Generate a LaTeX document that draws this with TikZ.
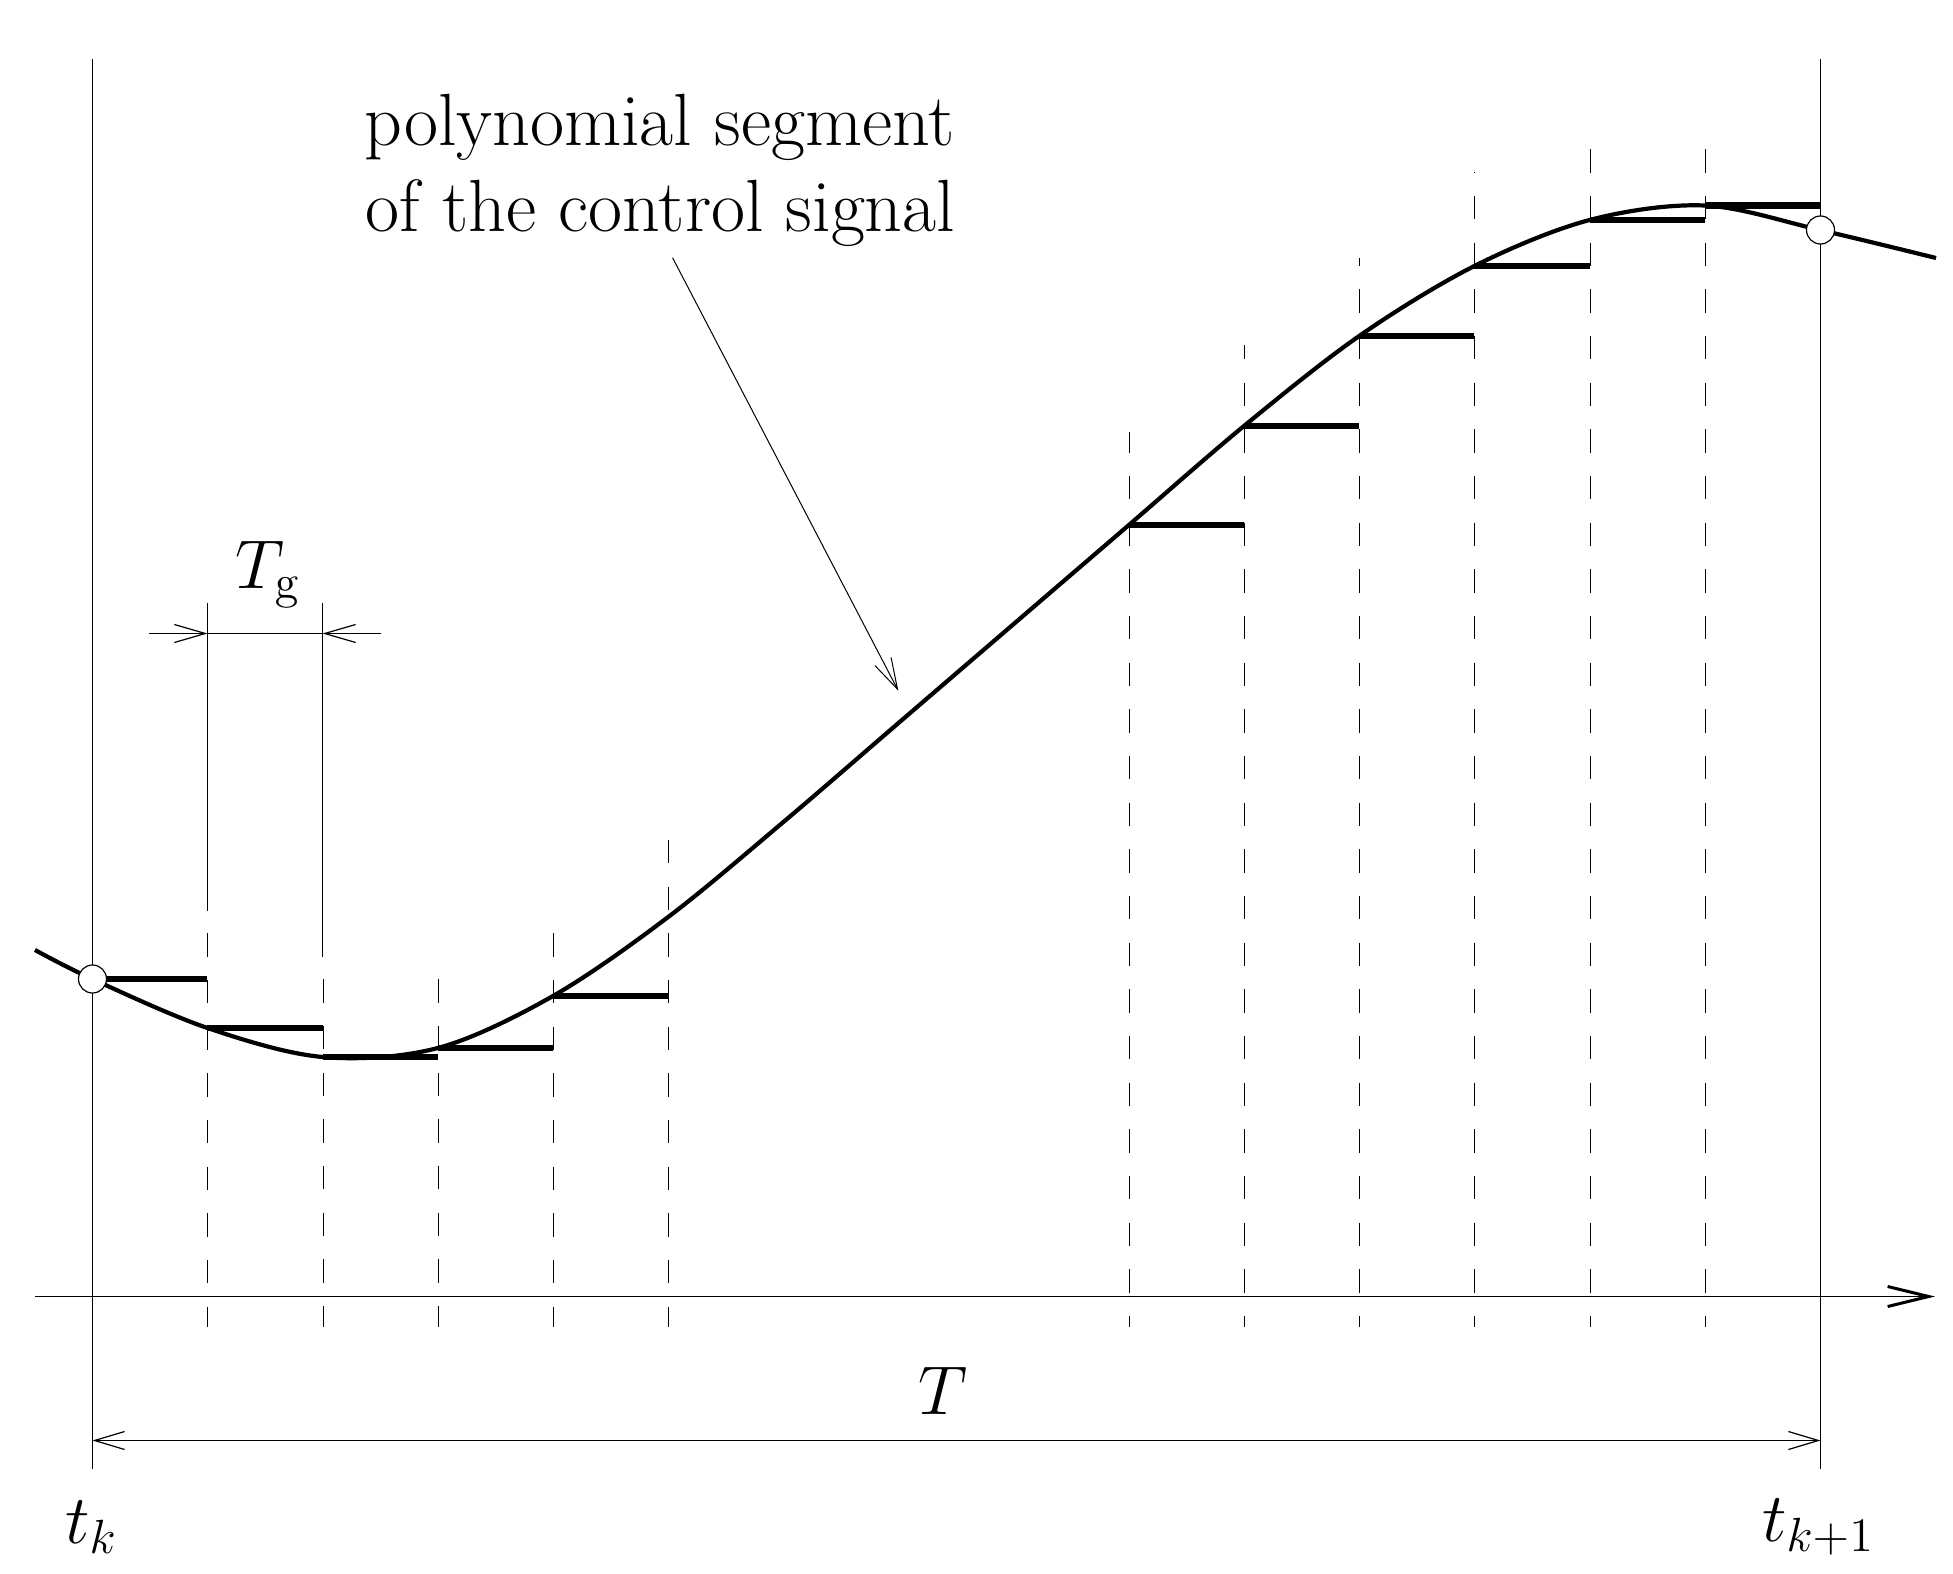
\documentclass[tikz,border=0pt]{standalone}
\usetikzlibrary{arrows.meta}
\begin{document}
\begin{tikzpicture}[x=0.25pt,y=-0.25pt,
  thinline/.style={line width=0.3pt},
  gridline/.style={line width=0.28pt, dash pattern=on 5.833pt off 5.833pt},
  curveline/.style={line width=1.05pt, line join=round},
  stepline/.style={line width=1.65pt},
  knot/.style={circle, draw, fill=white, line width=0.3pt, minimum size=7pt, inner sep=0pt},
  barb/.style={-{Straight Barb[length=7.75pt,width=4.5pt]}},
  dimarrow/.style={{Straight Barb[length=7.5pt,width=4.5pt]}-{Straight Barb[length=7.5pt,width=4.5pt]}},
  axisarrow/.style={-{Straight Barb[length=10.25pt,width=5pt,line width=0.75pt]}},
  lbl/.style={font=\fontsize{17.28}{21.5}\selectfont, inner sep=0pt},
  txt/.style={font=\fontsize{18.5}{23}\selectfont, inner sep=0pt},
]
\path[use as bounding box] (0,0) rectangle (1953,1574);

% dashed sampling lines
\foreach \k/\top/\ph in {1/933.33/0, 2/979.33/0, 3/979.33/0, 4/933.33/0, 5/840/0,
  9/431.7/0.59, 10/345/2.25, 11/258/3.83, 12/171.7/5.59, 13/149.33/0, 14/149.33/0}{
  \draw[gridline, dash phase=\ph pt] ({round(92.3+115.18*\k)+0.5},\top) -- ({round(92.3+115.18*\k)+0.5},1327);
}

% solid extension lines of T_g
\coordinate (g1top) at (207.5,603);
\coordinate (g1bot) at (207.5,910.7);
\coordinate (g2top) at (322.5,603);
\coordinate (g2bot) at (322.5,956.7);
\draw[thinline] (g1top) -- (g1bot);
\draw[thinline] (g2top) -- (g2bot);

% T_g dimension
\coordinate (gL) at (149,633.5);
\coordinate (gA) at (207.5,633.5);
\coordinate (gB) at (322.5,633.5);
\coordinate (gR) at (381,633.5);
\draw[thinline] (gA) -- (gB);
\draw[thinline, barb] (gL) -- (gA);
\draw[thinline, barb] (gR) -- (gB);

% t_k and t_{k+1} verticals
\coordinate (k0top) at (92.5,58.5);
\coordinate (k0bot) at (92.5,1469);
\coordinate (k1top) at (1820.5,58.5);
\coordinate (k1bot) at (1820.5,1469);
\draw[thinline] (k0top) -- (k0bot);
\draw[thinline] (k1top) -- (k1bot);

% time axis
\coordinate (ax0) at (35,1296.5);
\coordinate (ax1) at (1935,1296.5);
\draw[thinline, axisarrow] (ax0) -- (ax1);

% T dimension
\coordinate (TA) at (92.5,1440.5);
\coordinate (TB) at (1820.5,1440.5);
\draw[thinline, dimarrow] (TA) -- (TB);

% polynomial curve
\draw[curveline] plot[smooth, tension=0.55] coordinates {
  (35,950) (92.3,979) (207.5,1028) (322.7,1057) (437.8,1048) (553,996)
  (668.2,917) (783.4,822) (898.5,723) (1013.7,624) (1128.9,525) (1244,426)
  (1359.2,336) (1474.4,266) (1589.6,220) (1704.8,205.5) (1820,230) (1936,258)};

% zero-order hold steps
\foreach \k/\y in {0/979, 1/1028, 2/1057, 3/1048, 4/996,
  9/525, 10/426, 11/336, 12/266, 13/220, 14/205.5}{
  \draw[stepline] ({92.3+115.18*\k},\y) -- ({92.3+115.18*(\k+1)},\y);
}

% knots
\node[knot] (P0) at (92.5,979) {};
\node[knot] (P1) at (1820.5,230) {};

% labels
\node[txt, anchor=base] (lab1) at (659.5,145) {polynomial segment};
\node[txt, anchor=base] (lab2) at (660.5,231) {of the control signal};
\node[lbl, anchor=base] (Tg) at (268,588) {$T_{\mathrm{g}}$};
\node[lbl, anchor=base] (Tlab) at (943.5,1414) {$T$};
\node[lbl, anchor=base] (tk) at (91.5,1543) {$t_k$};
\node[lbl, anchor=base] (tk1) at (1818.5,1541) {$t_{k+1}$};

% pointer arrow
\coordinate (ptrstart) at (672.6,257.8);
\coordinate (ptrtip) at (898.3,690.7);
\draw[line width=0.25pt, barb] (ptrstart) -- (ptrtip);
\end{tikzpicture}
\end{document}
